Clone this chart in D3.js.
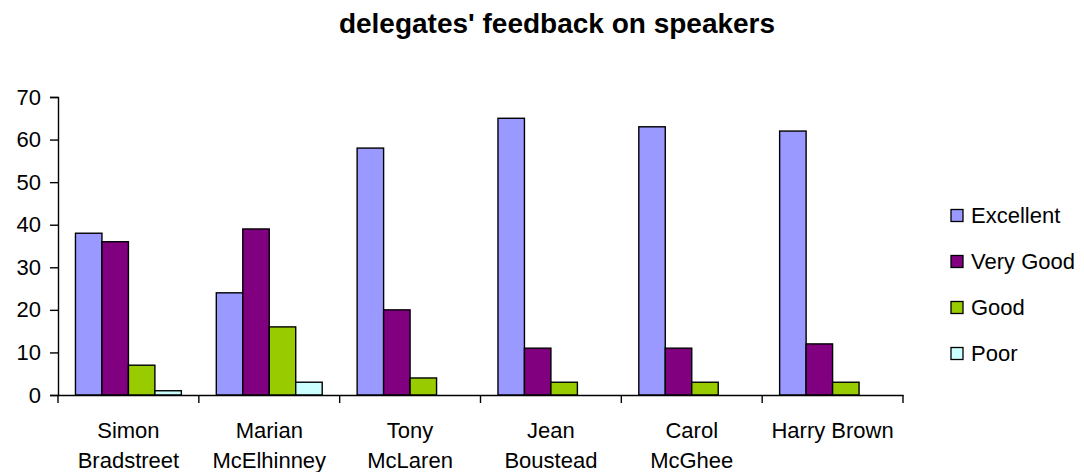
<!DOCTYPE html>
<html><head><meta charset="utf-8">
<script src="https://cdn.jsdelivr.net/npm/d3@7"></script>
<style>body{margin:0;background:#fff}svg{display:block;font-family:"Liberation Sans",Arial,sans-serif}</style>
</head><body><svg id="c" width="1084" height="472"></svg>
<script>
const categories = [["Simon","Bradstreet"],["Marian","McElhinney"],["Tony","McLaren"],["Jean","Boustead"],["Carol","McGhee"],["Harry Brown"]];
const seriesNames = ["Excellent","Very Good","Good","Poor"];
const excellent = [38,24,58,65,63,62];
const veryGood = [36,39,20,11,11,12];
const good = [7,16,4,3,3,3];
const poor = [1,3,0,0,0,0];
const colors = ["#9999FF","#800080","#99CC00","#CCFFFF"];
const yTicks = [0,10,20,30,40,50,60,70];
const series = [excellent, veryGood, good, poor];

(function(){
const svg = d3.select("#c");
const pl = 58, pr = 903, pt = 97, pb = 395;
const keys = categories.map((c,i)=>i);
const x = d3.scaleBand().domain(keys).range([pl,pr]).paddingInner(0).paddingOuter(0);
const x1 = d3.scaleBand().domain(d3.range(4)).range([0,x.bandwidth()]).paddingOuter(0.66).paddingInner(0);
const y = d3.scaleLinear().domain([0,70]).range([pb,pt]);

svg.append("text").attr("x",557).attr("y",33).attr("text-anchor","middle")
  .attr("font-weight","bold").attr("font-size",28).text("delegates' feedback on speakers");

series.forEach((vals,si)=>{
  svg.append("g").selectAll("rect").data(vals).join("rect")
    .attr("x",(d,i)=>x(i)+x1(si)).attr("width",x1.bandwidth())
    .attr("y",d=>y(d)).attr("height",d=>pb-y(d))
    .attr("fill",colors[si]).attr("stroke","#000").attr("stroke-width",1.4)
    .attr("display",d=>d>0?null:"none");
});

const ya = svg.append("g").attr("transform",`translate(${pl},0)`)
  .call(d3.axisLeft(y).tickValues(yTicks).tickSize(8).tickPadding(9));
ya.select(".domain").attr("stroke","#000").attr("stroke-width",1.4);
ya.selectAll(".tick line").attr("stroke","#000").attr("stroke-width",1.4);
ya.selectAll(".tick text").attr("font-size",22).attr("fill","#000").attr("font-family","Liberation Sans, Arial, sans-serif");

const xa = svg.append("g").attr("transform",`translate(0,${pb})`)
  .call(d3.axisBottom(x).tickSize(0).tickFormat(""));
xa.select(".domain").attr("stroke","#000").attr("stroke-width",1.4);
xa.selectAll(".tick").remove();
const bounds = keys.map(k=>x(k)).concat([pr]);
xa.selectAll("line.t").data(bounds).join("line").attr("class","t")
  .attr("x1",d=>d).attr("x2",d=>d).attr("y1",0).attr("y2",8).attr("stroke","#000").attr("stroke-width",1.4);
categories.forEach((lines,i)=>{
  const cx = x(i)+x.bandwidth()/2;
  const t = svg.append("text").attr("text-anchor","middle").attr("font-size",22).attr("x",cx).attr("y",438);
  lines.forEach((l,j)=>t.append("tspan").attr("x",cx).attr("dy",j?30:0).text(l));
});

const lg = svg.append("g");
seriesNames.forEach((n,i)=>{
  const cy = 215.5 + i*46;
  lg.append("rect").attr("x",951).attr("y",cy-6).attr("width",12).attr("height",12)
    .attr("fill",colors[i]).attr("stroke","#000").attr("stroke-width",1.3);
  lg.append("text").attr("x",971).attr("y",cy+7.5).attr("font-size",22).text(n);
});
})();
</script></body></html>
